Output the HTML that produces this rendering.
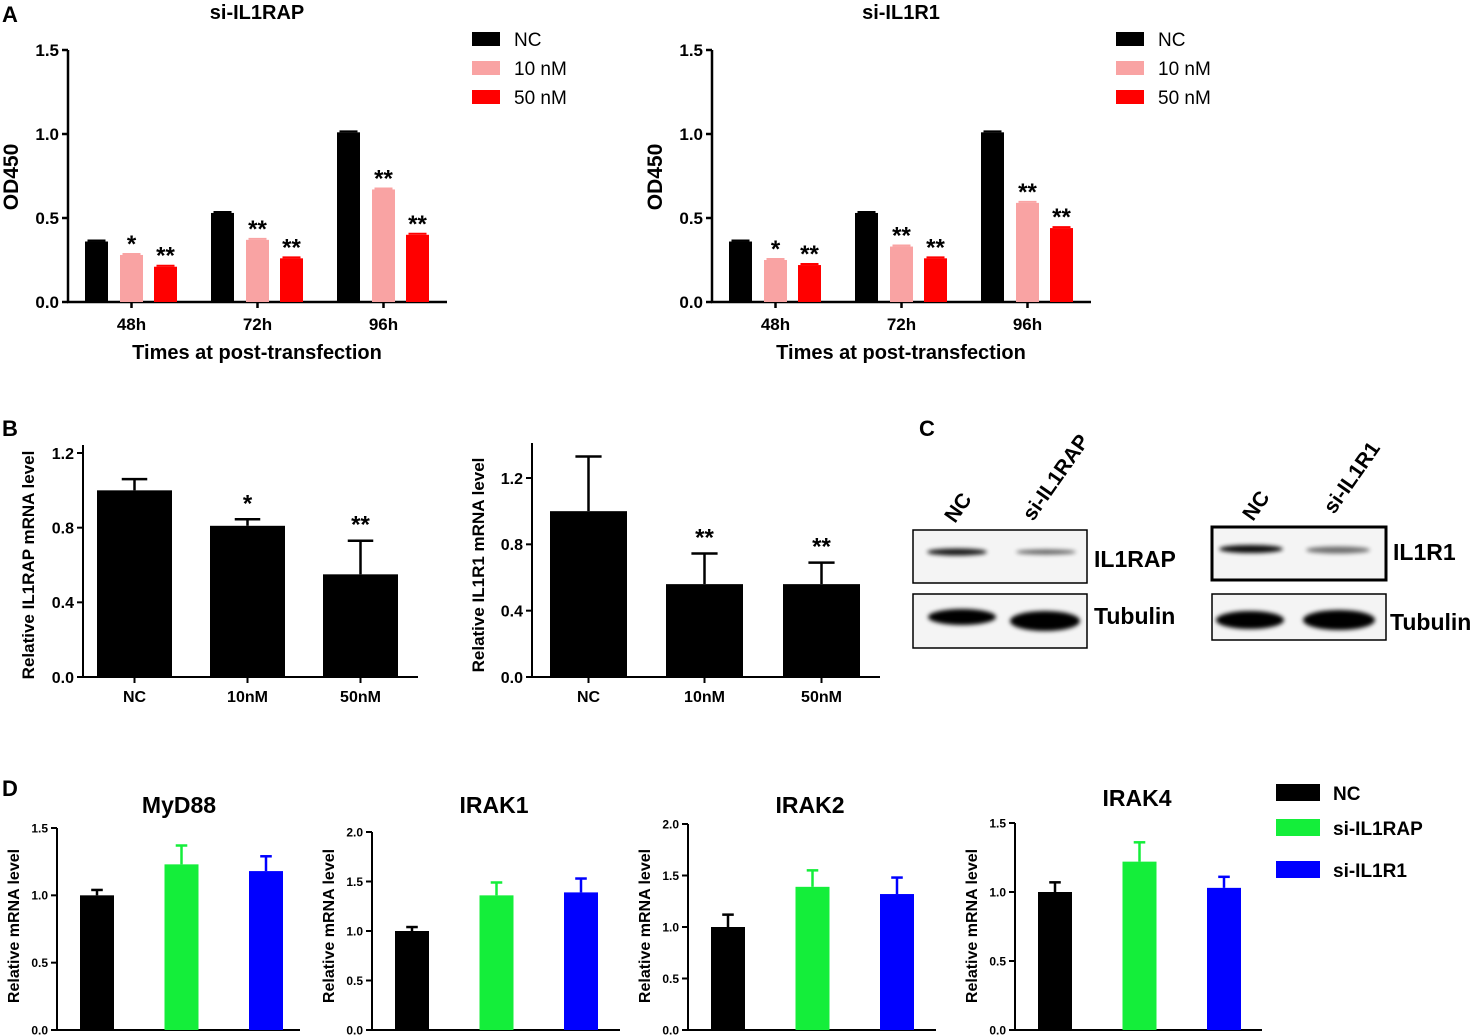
<!DOCTYPE html>
<html><head><meta charset="utf-8"><style>
html,body{margin:0;padding:0;background:#fff}
svg{display:block}
text{font-family:"Liberation Sans",sans-serif;fill:#000}
</style></head><body>
<svg id="fig" width="1477" height="1036" viewBox="0 0 1477 1036" xmlns="http://www.w3.org/2000/svg">
<defs><filter id="blur" x="-20%" y="-100%" width="140%" height="300%"><feGaussianBlur stdDeviation="2.2"/></filter></defs>
<g id="root"></g>
</svg>
<script>
// Panel A data
const timeCats = ['48h','72h','96h'];
const aLeftNC = [0.36,0.53,1.01];
const aLeft10 = [0.28,0.37,0.67];
const aLeft50 = [0.21,0.26,0.40];
const aLeftStars10 = ['*','**','**'];
const aLeftStars50 = ['**','**','**'];
const aRightNC = [0.36,0.53,1.01];
const aRight10 = [0.25,0.33,0.59];
const aRight50 = [0.22,0.26,0.44];
const aRightStars10 = ['*','**','**'];
const aRightStars50 = ['**','**','**'];
const aTicks = [0,0.5,1.0,1.5];
// Panel B data
const bCats = ['NC','10nM','50nM'];
const bLeftVals = [1.0,0.81,0.55];
const bLeftErr = [0.06,0.035,0.18];
const bLeftStars = ['','*','**'];
const bRightVals = [1.0,0.56,0.56];
const bRightErr = [0.33,0.185,0.13];
const bRightStars = ['','**','**'];
const bTicks = [0,0.4,0.8,1.2];
// Panel D data
const dTitles = ['MyD88','IRAK1','IRAK2','IRAK4'];
const dVals = [[1.0,1.23,1.18],[1.0,1.36,1.39],[1.0,1.39,1.32],[1.0,1.22,1.03]];
const dErr = [[0.04,0.14,0.11],[0.04,0.13,0.14],[0.12,0.16,0.16],[0.07,0.14,0.08]];
const dMax = [1.5,2.0,2.0,1.5];
const dTicks = [[0,0.5,1.0,1.5],[0,0.5,1.0,1.5,2.0],[0,0.5,1.0,1.5,2.0],[0,0.5,1.0,1.5]];

const NS='http://www.w3.org/2000/svg';
const root=document.getElementById('root');
function mk(tag,attrs,parent,txt){const e=document.createElementNS(NS,tag);for(const k in attrs)e.setAttribute(k,attrs[k]);if(txt!==undefined)e.textContent=txt;(parent||root).appendChild(e);return e;}
function grp(name){const g=mk('g',{});return g;}
function yScale(y0,yTop,max){return v=>y0-(v/max)*(y0-yTop);}
function fmt(t,d){return t.toFixed(d);}

function axes(g,ax,y0,yTop,x1,ticks,max,fs,dec,lw,axTop){
  const y=yScale(y0,yTop,max);
  const a=mk('line',{x1:ax,y1:y0,x2:ax,y2:(axTop===undefined?yTop:axTop),stroke:'#000','stroke-width':lw},g);
  
  const b=mk('line',{x1:ax-1,y1:y0,x2:x1,y2:y0,stroke:'#000','stroke-width':lw},g);
  
  ticks.forEach(t=>{
    mk('line',{x1:ax-6,y1:y(t),x2:ax,y2:y(t),stroke:'#000','stroke-width':lw},g);
    const tx=mk('text',{x:ax-9,y:y(t)+fs*0.36,'text-anchor':'end','font-size':fs,'font-weight':'bold'},g,fmt(t,dec));
    
  });
  return y;
}
function bar(g,x,w,v,err,y,color,name){
  const r=mk('rect',{x:x,y:y(v),width:w,height:y(0)-y(v),fill:color},g);
  
  if(err>0){
    const cx=x+w/2;
    mk('line',{x1:cx,y1:y(v),x2:cx,y2:y(v+err),stroke:color,'stroke-width':2.5},g);
    mk('line',{x1:cx-w*0.17,y1:y(v+err),x2:cx+w*0.17,y2:y(v+err),stroke:color,'stroke-width':2.5},g);
  }
}
function label(g,x,y,t,fs,name,opts){
  const a=Object.assign({x:x,y:y,'text-anchor':'middle','font-size':fs,'font-weight':'bold'},opts||{});
  const e=mk('text',a,g,t);return e;
}

// Panel A
function panelA(off,title,nc,v10,v50,s10,s50){
  const g=grp('od450-chart-'+title);
  const ax=68+off;
  const y=axes(g,ax,302,50,447+off,aTicks,1.5,17,1,2.5);
  timeCats.forEach((c,i)=>{
    const cx=131.5+off+i*126;
    bar(g,cx-46.5,23,nc[i],0,y,'#000','bar-nc-'+c);
    bar(g,cx-11.5,23,v10[i],0,y,'#f9a3a3','bar-10nm-'+c);
    bar(g,cx+22.5,23,v50[i],0,y,'#ff0000','bar-50nm-'+c);
    [[nc[i],cx-35,'#000'],[v10[i],cx,'#f9a3a3'],[v50[i],cx+34,'#ff0000']].forEach(p=>{
      mk('line',{x1:p[1]-9,y1:y(p[0])-1,x2:p[1]+9,y2:y(p[0])-1,stroke:p[2],'stroke-width':2},g);
    });
    mk('line',{x1:cx,y1:302,x2:cx,y2:308,stroke:'#000','stroke-width':2.5},g);
    label(g,cx,y(v10[i])-3,s10[i],24,'significance-star');
    label(g,cx+34,y(v50[i])-3,s50[i],24,'significance-star');
    label(g,cx,330,c,17,'x-tick-label');
  });
  label(g,257+off,19,title,20,'chart-title');
  label(g,257+off,359,'Times at post-transfection',20,'x-axis-title');
  label(g,0,0,'OD450',21,'y-axis-title',{transform:`translate(${18+off},177) rotate(-90)`});
  const leg=[['NC','#000'],['10 nM','#f9a3a3'],['50 nM','#ff0000']];
  leg.forEach((l,i)=>{
    const r=mk('rect',{x:472+off,y:32+i*29,width:28,height:14,fill:l[1]},g);
    
    label(g,514+off,46+i*29,l[0],19,'legend-entry',{'text-anchor':'start','font-weight':'normal'});
  });
}
panelA(0,'si-IL1RAP',aLeftNC,aLeft10,aLeft50,aLeftStars10,aLeftStars50);
panelA(644,'si-IL1R1',aRightNC,aRight10,aRight50,aRightStars10,aRightStars50);
label(root,10,22,'A',22,'panel-label-a');

// Panel B
function panelB(name,ax,yTop,axTop,x1,starts,w,vals,errs,stars,ylab,ylx){
  const g=grp(name);
  const y=axes(g,ax,677,yTop,x1,bTicks,1.2,16,1,2,axTop);
  bCats.forEach((c,i)=>{
    bar(g,starts[i],w,vals[i],errs[i],y,'#000','bar-'+c);
    mk('line',{x1:starts[i]+w/2,y1:677,x2:starts[i]+w/2,y2:683,stroke:'#000','stroke-width':2},g);
    label(g,starts[i]+w/2,702,c,16,'x-tick-label');
    if(stars[i])label(g,starts[i]+w/2,y(vals[i]+errs[i])-8,stars[i],24,'significance-star');
  });
  label(g,0,0,ylab,17,'y-axis-title',{transform:`translate(${ylx},565) rotate(-90)`});
}
panelB('il1rap-mrna-chart',83,453,445,418,[97,210,323],75,bLeftVals,bLeftErr,bLeftStars,'Relative IL1RAP mRNA level',34);
panelB('il1r1-mrna-chart',532,478,443,880,[550,666,783],77,bRightVals,bRightErr,bRightStars,'Relative IL1R1 mRNA level',484);
label(root,10,436,'B',22,'panel-label-b');

// Panel C western blots
(function(){
  const g=grp('western-blots');
  label(g,927,436,'C',22,'panel-label-c');
  function box(x,y,w,h,bw){const r=mk('rect',{x:x,y:y,width:w,height:h,fill:'#f4f4f4',stroke:'#000','stroke-width':bw},g);}
  function band(cx,cy,rx,ry,op){const e=mk('ellipse',{cx:cx,cy:cy,rx:rx,ry:ry,fill:'#000',opacity:op,filter:'url(#blur)'},g);}
  box(913,530,174,53,1.5); box(913,594,174,54,1.5);
  box(1212,527,174,53,3); box(1212,594,174,46,1.5);
  band(957,552,30,3.5,0.9); band(1046,552,30,2.5,0.6);
  band(962,617,34,8,1); band(1045,621,35,10,1);
  band(1251,549,32,4,0.95); band(1338,550,32,3.5,0.55);
  band(1250,620,34,9,1); band(1339,620,36,10,1);
  const t=[['IL1RAP',1094,567],['Tubulin',1094,624],['IL1R1',1393,560],['Tubulin',1390,630]];
  t.forEach(a=>{const e=mk('text',{x:a[1],y:a[2],'font-size':23,'font-weight':'bold'},g,a[0]);});
  const l=[['NC',955,524],['si-IL1RAP',1033,522],['NC',1253,522],['si-IL1R1',1334,515]];
  l.forEach(a=>{const e=mk('text',{x:a[1],y:a[2],'font-size':21,'font-weight':'bold',transform:`rotate(-55 ${a[1]} ${a[2]})`},g,a[0]);});
})();

// Panel D
label(root,10,796,'D',22,'panel-label-d');
const dAxX=[57,372,688,1015], dTop=[828,832,824,823], dEnd=[300,620,936,1262];
const dColors=['#000','#14ee3a','#0000ff'];
const dGroups=['NC','si-IL1RAP','si-IL1R1'];
dTitles.forEach((t,k)=>{
  const g=grp('chart-'+t.toLowerCase());
  const y=axes(g,dAxX[k],1030,dTop[k],dEnd[k],dTicks[k],dMax[k],12,1,2);
  const w=34;
  dGroups.forEach((c,i)=>{
    const x=dAxX[k]+23+i*84.5;
    bar(g,x,w,dVals[k][i],dErr[k][i],y,dColors[i],'bar-'+c);
  });
  const tcx=dAxX[k]+122;
  label(g,tcx,k==3?806:813,t,23,'chart-title');
  label(g,0,0,'Relative mRNA level',16,'y-axis-title',{transform:`translate(${dAxX[k]-38},926) rotate(-90)`});
});
(function(){
  const g=grp('legend-d');
  const ys=[784,819,861];
  dGroups.forEach((c,i)=>{
    const r=mk('rect',{x:1276,y:ys[i],width:44,height:17,fill:dColors[i]},g);
    
    label(g,1333,ys[i]+16,c,19,'legend-entry',{'text-anchor':'start'});
  });
})();
</script>
</body></html>
